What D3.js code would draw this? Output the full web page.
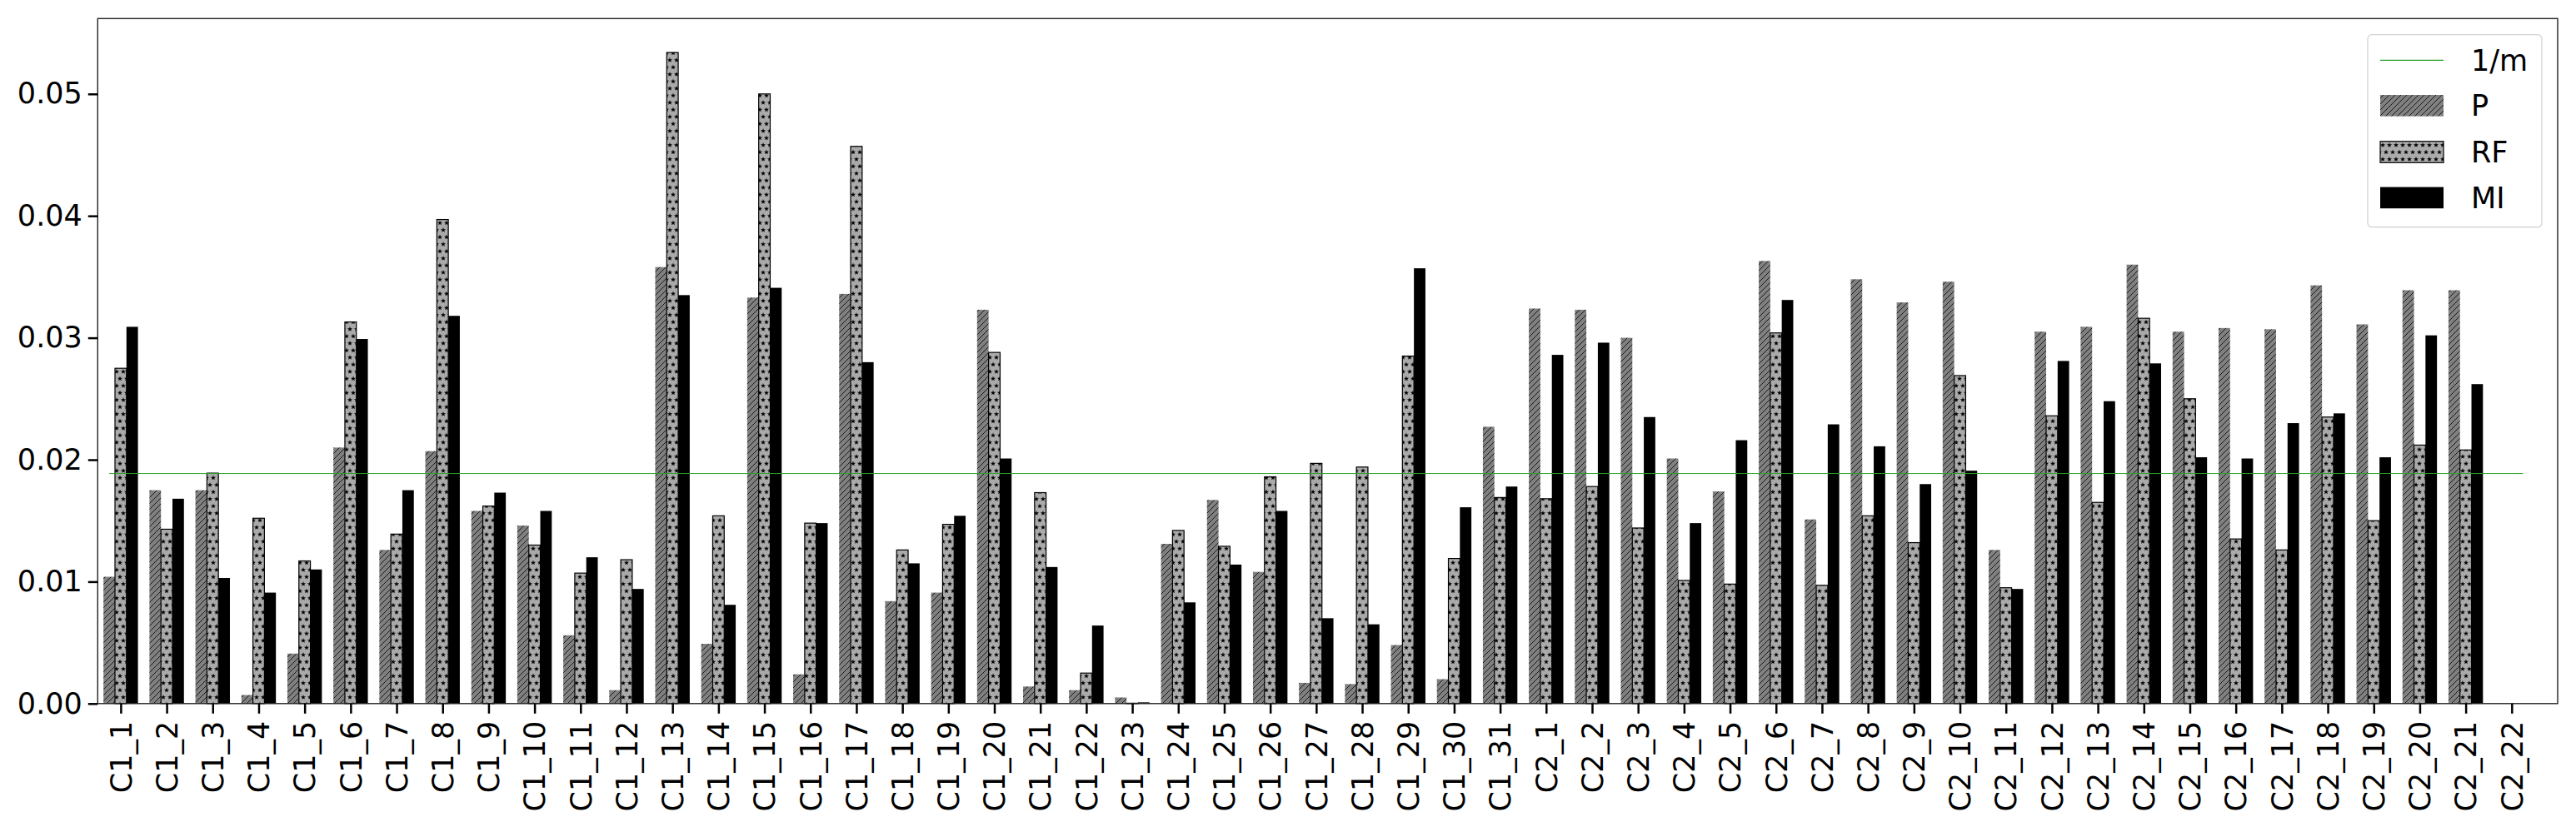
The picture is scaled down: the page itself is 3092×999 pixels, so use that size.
<!DOCTYPE html>
<html>
<head>
<meta charset="utf-8">
<script src="https://cdn.jsdelivr.net/npm/d3@7"></script>
<style>
  body { margin: 0; background: #fff; }
  text { font-family: "DejaVu Sans", sans-serif; }
</style>
</head>
<body>
<svg id="chart" width="3092" height="999"></svg>
<script>
// categories along the x axis
var categories = ["C1_1","C1_2","C1_3","C1_4","C1_5","C1_6","C1_7","C1_8","C1_9","C1_10",
  "C1_11","C1_12","C1_13","C1_14","C1_15","C1_16","C1_17","C1_18","C1_19","C1_20",
  "C1_21","C1_22","C1_23","C1_24","C1_25","C1_26","C1_27","C1_28","C1_29","C1_30","C1_31",
  "C2_1","C2_2","C2_3","C2_4","C2_5","C2_6","C2_7","C2_8","C2_9","C2_10",
  "C2_11","C2_12","C2_13","C2_14","C2_15","C2_16","C2_17","C2_18","C2_19","C2_20","C2_21","C2_22"];

var valuesP = [0.0104,0.0175,0.0175,0.0007,0.0041,0.0210,0.0126,0.0207,0.0158,0.0146,
  0.0056,0.0011,0.0358,0.0049,0.0333,0.0024,0.0336,0.0084,0.0091,0.0323,
  0.0014,0.0011,0.0005,0.0131,0.0167,0.0108,0.0017,0.0016,0.0048,0.0020,0.0227,
  0.0324,0.0323,0.0300,0.0201,0.0174,0.0363,0.0151,0.0348,0.0329,0.0346,
  0.0126,0.0305,0.0309,0.0360,0.0305,0.0308,0.0307,0.0343,0.0311,0.0339,0.0339,0];

var valuesRF = [0.0275,0.0143,0.0189,0.0152,0.0117,0.0313,0.0139,0.0397,0.0162,0.0130,
  0.0107,0.0118,0.0534,0.0154,0.0500,0.0148,0.0457,0.0126,0.0147,0.0288,
  0.0173,0.0025,0.00003,0.0142,0.0129,0.0186,0.0197,0.0194,0.0285,0.0119,0.0169,
  0.0168,0.0178,0.0144,0.0101,0.0098,0.0304,0.0097,0.0154,0.0132,0.0269,
  0.0095,0.0236,0.0165,0.0316,0.0250,0.0135,0.0126,0.0235,0.0150,0.0212,0.0208,0];

var valuesMI = [0.0309,0.0168,0.0103,0.0091,0.0110,0.0299,0.0175,0.0318,0.0173,0.0158,
  0.0120,0.0094,0.0335,0.0081,0.0341,0.0148,0.0280,0.0115,0.0154,0.0201,
  0.0112,0.0064,0.0001,0.0083,0.0114,0.0158,0.0070,0.0065,0.0357,0.0161,0.0178,
  0.0286,0.0296,0.0235,0.0148,0.0216,0.0331,0.0229,0.0211,0.0180,0.0191,
  0.0094,0.0281,0.0248,0.0279,0.0202,0.0201,0.0230,0.0238,0.0202,0.0302,0.0262,0];

var yTicks = [0, 0.01, 0.02, 0.03, 0.04, 0.05];
var legendLabels = ["1/m", "P", "RF", "MI"];

var svg = d3.select("#chart");
var plotL = 117.3, plotR = 3070, plotT = 22.3, plotB = 844.8;
var fontSize = 35;

var x = d3.scaleLinear().domain([-0.5, 53]).range([plotL, plotR]);
var y = d3.scaleLinear().domain([0, 0.05618]).range([plotB, plotT]);
var bw = x(0.25) - x(0);

// patterns for hatching
var defs = svg.append("defs");
var pHatch = defs.append("pattern").attr("id", "hatchP")
  .attr("patternUnits", "userSpaceOnUse").attr("width", 7).attr("height", 7);
pHatch.append("rect").attr("width", 7).attr("height", 7).attr("fill", "#808080");
pHatch.append("path").attr("d", "M-1,8 L8,-1 M-1,1 L1,-1 M6,8 L8,6")
  .attr("stroke", "#000").attr("stroke-width", 0.8);

function starPath(cx, cy, ro, ri) {
  var pts = [];
  for (var i = 0; i < 10; i++) {
    var r = i % 2 === 0 ? ro : ri;
    var a = -Math.PI / 2 + i * Math.PI / 5;
    pts.push([cx + r * Math.cos(a), cy + r * Math.sin(a)]);
  }
  return "M" + pts.map(function(p) { return p[0].toFixed(2) + "," + p[1].toFixed(2); }).join("L") + "Z";
}
var rfHatch = defs.append("pattern").attr("id", "hatchRF")
  .attr("patternUnits", "userSpaceOnUse").attr("width", 8).attr("height", 17);
rfHatch.append("rect").attr("width", 8).attr("height", 17).attr("fill", "#aaaaaa");
[[4, 4.25], [0, 12.75], [8, 12.75]].forEach(function(c) {
  rfHatch.append("path").attr("d", starPath(c[0], c[1], 3.2, 1.3)).attr("fill", "#000");
});

var series = [
  { name: "P", values: valuesP, offset: -0.25, fill: "url(#hatchP)", stroke: "none" },
  { name: "RF", values: valuesRF, offset: 0, fill: "url(#hatchRF)", stroke: "#000" },
  { name: "MI", values: valuesMI, offset: 0.25, fill: "#000", stroke: "none" }
];

series.forEach(function(s) {
  svg.append("g").selectAll("rect").data(s.values).enter().append("rect")
    .attr("x", function(d, i) { return x(i + s.offset) - bw / 2; })
    .attr("y", function(d) { return y(d); })
    .attr("width", bw)
    .attr("height", function(d) { return y(0) - y(d); })
    .attr("fill", s.fill)
    .attr("stroke", s.stroke)
    .attr("stroke-width", s.stroke === "none" ? 0 : 1.2);
});

// 1/m reference line
var m = categories.length;
svg.append("line")
  .attr("x1", x(-0.25)).attr("x2", x(m - 1 + 0.25))
  .attr("y1", y(1 / m)).attr("y2", y(1 / m))
  .attr("stroke", "#2ca02c").attr("stroke-width", 1);

// frame
svg.append("rect").attr("x", plotL).attr("y", plotT)
  .attr("width", plotR - plotL).attr("height", plotB - plotT)
  .attr("fill", "none").attr("stroke", "#222").attr("stroke-width", 1.4);

// y axis
var yAxis = svg.append("g").attr("transform", "translate(" + plotL + ",0)")
  .call(d3.axisLeft(y).tickValues(yTicks).tickFormat(d3.format(".2f")).tickSize(11.5).tickPadding(7));
yAxis.select(".domain").remove();
yAxis.selectAll("line").attr("stroke", "#000").attr("stroke-width", 2.5);
yAxis.selectAll("text").attr("font-size", fontSize).attr("fill", "#000")
  .attr("font-family", "DejaVu Sans");

// x axis
var xAxis = svg.append("g").attr("transform", "translate(0," + plotB + ")")
  .call(d3.axisBottom(x).tickValues(d3.range(m)).tickFormat(function(i) { return categories[i]; }).tickSize(12));
xAxis.select(".domain").remove();
xAxis.selectAll("line").attr("stroke", "#000").attr("stroke-width", 2.5);
xAxis.selectAll("text")
  .attr("font-size", fontSize).attr("fill", "#000").attr("font-family", "DejaVu Sans")
  .attr("transform", "translate(0,21) rotate(-90)")
  .attr("x", 0).attr("y", 0).attr("dy", "0.35em")
  .attr("text-anchor", "end");

// legend
var lg = svg.append("g");
lg.append("rect").attr("x", 2842).attr("y", 41.7).attr("width", 209).attr("height", 231)
  .attr("rx", 5).attr("fill", "#fff").attr("fill-opacity", 0.8)
  .attr("stroke", "#d0d0d0").attr("stroke-width", 1.2);
var rowY = [72.3, 126.8, 182.5, 237.4];
lg.append("line").attr("x1", 2857).attr("x2", 2933).attr("y1", rowY[0]).attr("y2", rowY[0])
  .attr("stroke", "#2ca02c").attr("stroke-width", 1.2);
series.forEach(function(s, i) {
  lg.append("rect").attr("x", 2857).attr("y", rowY[i + 1] - 12.8).attr("width", 76).attr("height", 25.6)
    .attr("fill", s.fill).attr("stroke", s.stroke).attr("stroke-width", s.stroke === "none" ? 0 : 1.2);
});
lg.selectAll("text.lab").data(legendLabels).enter().append("text")
  .attr("x", 2966).attr("y", function(d, i) { return rowY[i]; })
  .attr("dy", "0.35em").attr("font-size", fontSize).attr("fill", "#000")
  .text(function(d) { return d; });
</script>
</body>
</html>
